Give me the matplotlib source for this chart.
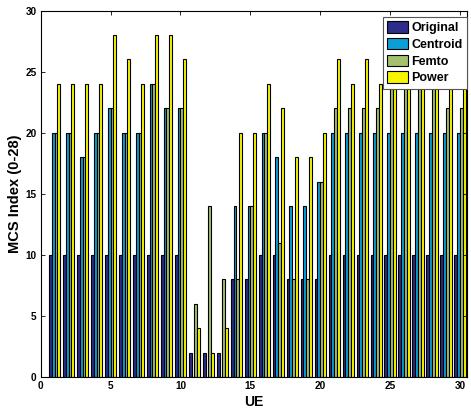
import numpy as np
import matplotlib
matplotlib.use('Agg')
import matplotlib.pyplot as plt

plt.rcParams['font.family'] = ['Liberation Sans', 'DejaVu Sans']
plt.rcParams['font.weight'] = 'bold'

# MCS index per UE for each scheme
ue = np.arange(1, 31)
original = [10, 10, 10, 10, 10, 10, 10, 10, 10, 10,
            2, 2, 2, 8, 8, 10, 10, 8, 8, 8,
            10, 10, 10, 10, 10, 10, 10, 10, 10, 10]
centroid = [20, 20, 18, 20, 22, 20, 20, 24, 22, 22,
            0, 0, 0, 14, 14, 20, 18, 14, 14, 16,
            20, 20, 20, 20, 20, 20, 20, 20, 20, 20]
femto = [20, 20, 18, 20, 22, 20, 20, 24, 22, 22,
         6, 14, 8, 8, 14, 20, 11, 8, 8, 16,
         22, 22, 22, 22, 24, 24, 24, 24, 22, 22]
power = [24, 24, 24, 24, 28, 26, 24, 28, 28, 26,
         4, 2, 4, 20, 20, 24, 22, 18, 18, 20,
         26, 24, 26, 24, 26, 26, 26, 26, 24, 24]

series = [('Original', original, '#2c2c8a'),
          ('Centroid', centroid, '#0c9fd6'),
          ('Femto', femto, '#a5c06c'),
          ('Power', power, '#f6f600')]

fig = plt.figure(figsize=(4.71, 4.12), dpi=100)
ax = fig.add_axes([0.0864, 0.085, 0.905, 0.8895])

w = 0.2
offsets = np.array([-1.5, -0.5, 0.5, 1.5]) * w
for (name, vals, col), off in zip(series, offsets):
    ax.bar(ue + off, vals, width=w, color=col, edgecolor='black',
           linewidth=0.8, label=name)

ax.set_xlim(0, 30.5)
ax.set_ylim(0, 30)
ax.set_xticks(range(0, 31, 5))
ax.set_yticks(range(0, 31, 5))
ax.tick_params(direction='in', top=True, right=True, labelsize=7.2,
               length=3, width=0.6, pad=3)
for s in ax.spines.values():
    s.set_linewidth(0.8)

ax.set_xlabel('UE', fontsize=10, fontweight='bold', labelpad=3)
ax.set_ylabel('MCS Index (0-28)', fontsize=10.5, fontweight='bold', labelpad=2)

leg = ax.legend(loc='upper right', bbox_to_anchor=(1.0, 0.982),
                fontsize=9, framealpha=1, fancybox=False,
                edgecolor='#555555', borderpad=0.35, labelspacing=0.3,
                handlelength=1.7, handleheight=1.0, handletextpad=0.25,
                borderaxespad=0.0)
leg.get_frame().set_linewidth(0.8)
for t in leg.get_texts():
    t.set_fontweight('bold')

fig.savefig('out.png', dpi=100)
